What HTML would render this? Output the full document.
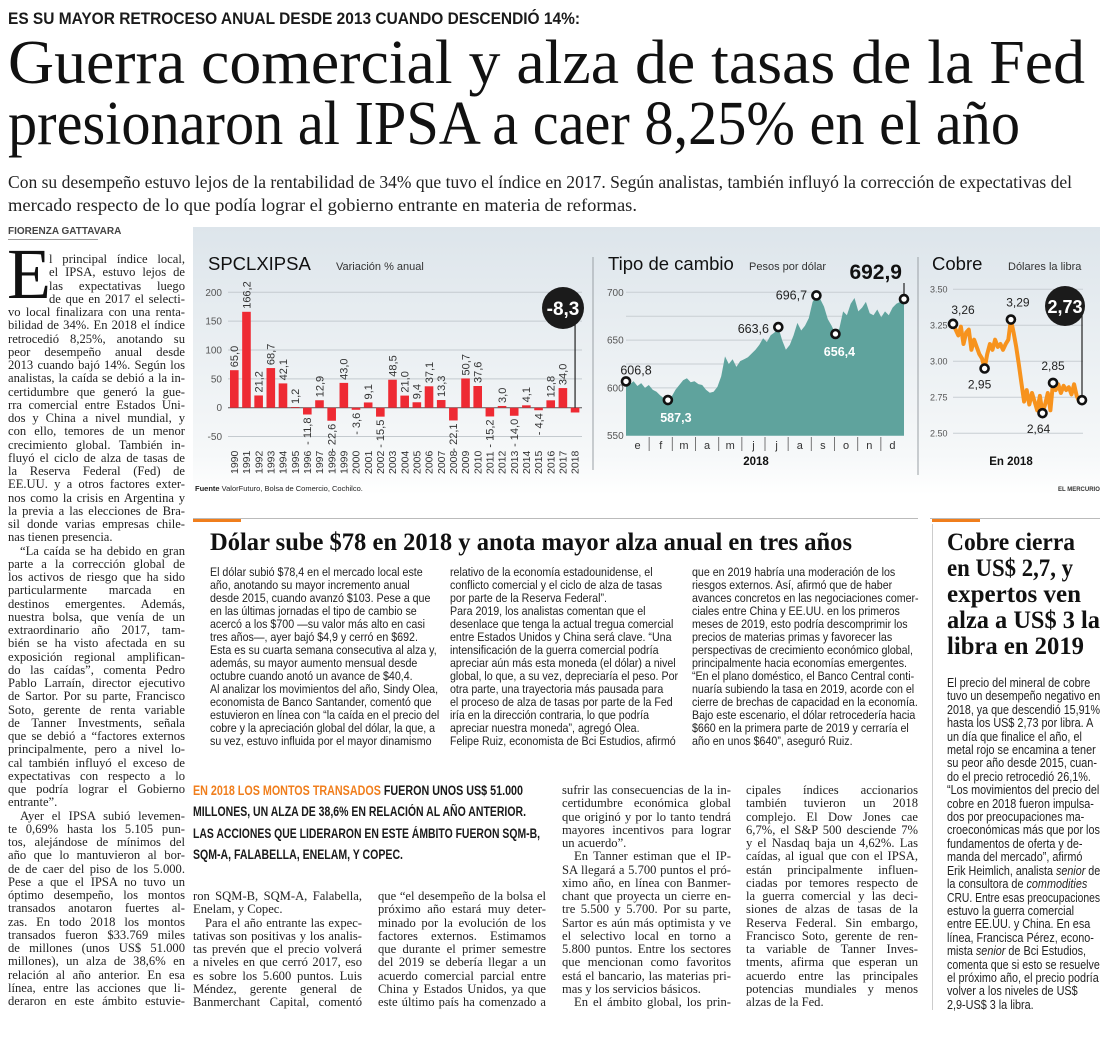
<!DOCTYPE html>
<html><head><meta charset="utf-8">
<style>
*{margin:0;padding:0;box-sizing:border-box}
body{width:1100px;height:1046px;background:#fff;position:relative;overflow:hidden;color:#1e1e1e;font-family:"Liberation Serif",serif}
.a{position:absolute;white-space:nowrap}
.col{position:absolute;font-family:"Liberation Serif",serif;font-size:12.6px;line-height:13.25px;color:#222}
.l{white-space:nowrap;text-align:justify;text-align-last:justify;transform-origin:left center}
.l.e{text-align-last:left}
.l.i{text-indent:12px}
.sans{font-family:"Liberation Sans Narrow","Liberation Sans",sans-serif}
.mid{position:absolute;font-family:"Liberation Sans",sans-serif;font-size:12.4px;line-height:13px;color:#222;transform:scaleX(0.86);transform-origin:left top}
.mid .l,.side .l{text-align:left;text-align-last:left}
.side{position:absolute;font-family:"Liberation Sans",sans-serif;font-size:12.6px;line-height:13.4px;color:#222;transform:scaleX(0.86);transform-origin:left top}
.fx{transform-origin:left center;display:inline-block}
.hl{position:absolute;white-space:nowrap;font-size:25px;font-weight:bold;line-height:26px;color:#111;left:947px}
</style></head><body>

<div class="a fx sans" data-w="572" style="left:8px;top:9px;font-family:'Liberation Sans',sans-serif;font-weight:bold;font-size:17px;line-height:20px;color:#1a1a1a">ES SU MAYOR RETROCESO ANUAL DESDE 2013 CUANDO DESCENDIÓ 14%:</div>

<div class="a fx" data-w="1077" style="left:8px;top:30px;font-size:62px;line-height:66px;color:#111">Guerra comercial y alza de tasas de la Fed</div>
<div class="a fx" data-w="1012" style="left:8px;top:91px;font-size:62px;line-height:66px;color:#111">presionaron al IPSA a caer 8,25% en el año</div>

<div class="a fx" data-w="1064" style="left:8px;top:172px;font-size:18px;line-height:20px;color:#222">Con su desempeño estuvo lejos de la rentabilidad de 34% que tuvo el índice en 2017. Según analistas, también influyó la corrección de expectativas del</div>
<div class="a fx" data-w="629" style="left:8px;top:195px;font-size:18px;line-height:20px;color:#222">mercado respecto de lo que podía lograr el gobierno entrante en materia de reformas.</div>

<div class="a sans" style="left:8px;top:227px;font-size:10px;font-weight:bold;line-height:10px;color:#444">FIORENZA GATTAVARA</div>
<div class="a" style="left:8px;top:239px;width:90px;height:1px;background:#999"></div>

<!-- Left column -->
<div class="a" style="left:7px;top:238px;font-size:72px;line-height:72px;color:#111">E</div>
<div class="col" style="left:8px;top:253px;width:177px">
<div class="l" style="margin-left:41px">l principal índice local,</div>
<div class="l" style="margin-left:41px">el IPSA, estuvo lejos de</div>
<div class="l" style="margin-left:41px">las expectativas luego</div>
<div class="l" style="margin-left:41px">de que en 2017 el selecti-</div>
<div class="l">vo local finalizara con una renta-</div>
<div class="l">bilidad de 34%. En 2018 el índice</div>
<div class="l">retrocedió 8,25%, anotando su</div>
<div class="l">peor desempeño anual desde</div>
<div class="l">2013 cuando bajó 14%. Según los</div>
<div class="l">analistas, la caída se debió a la in-</div>
<div class="l">certidumbre que generó la gue-</div>
<div class="l">rra comercial entre Estados Uni-</div>
<div class="l">dos y China a nivel mundial, y</div>
<div class="l">con ello, temores de un menor</div>
<div class="l">crecimiento global. También in-</div>
<div class="l">fluyó el ciclo de alza de tasas de</div>
<div class="l">la Reserva Federal (Fed) de</div>
<div class="l">EE.UU. y a otros factores exter-</div>
<div class="l">nos como la crisis en Argentina y</div>
<div class="l">la previa a las elecciones de Bra-</div>
<div class="l">sil donde varias empresas chile-</div>
<div class="l e">nas tienen presencia.</div>
<div class="l i">“La caída se ha debido en gran</div>
<div class="l">parte a la corrección global de</div>
<div class="l">los activos de riesgo que ha sido</div>
<div class="l">particularmente marcada en</div>
<div class="l">destinos emergentes. Además,</div>
<div class="l">nuestra bolsa, que venía de un</div>
<div class="l">extraordinario año 2017, tam-</div>
<div class="l">bién se ha visto afectada en su</div>
<div class="l">exposición regional amplifican-</div>
<div class="l">do las caídas”, comenta Pedro</div>
<div class="l">Pablo Larraín, director ejecutivo</div>
<div class="l">de Sartor. Por su parte, Francisco</div>
<div class="l">Soto, gerente de renta variable</div>
<div class="l">de Tanner Investments, señala</div>
<div class="l">que se debió a “factores externos</div>
<div class="l">principalmente, pero a nivel lo-</div>
<div class="l">cal también influyó el exceso de</div>
<div class="l">expectativas con respecto a lo</div>
<div class="l">que podría lograr el Gobierno</div>
<div class="l e">entrante”.</div>
<div class="l i">Ayer el IPSA subió levemen-</div>
<div class="l">te 0,69% hasta los 5.105 pun-</div>
<div class="l">tos, alejándose de mínimos del</div>
<div class="l">año que lo mantuvieron al bor-</div>
<div class="l">de de caer del piso de los 5.000.</div>
<div class="l">Pese a que el IPSA no tuvo un</div>
<div class="l">óptimo desempeño, los montos</div>
<div class="l">transados anotaron fuertes al-</div>
<div class="l">zas. En todo 2018 los montos</div>
<div class="l">transados fueron $33.769 miles</div>
<div class="l">de millones (unos US$ 51.000</div>
<div class="l">millones), un alza de 38,6% en</div>
<div class="l">relación al año anterior. En esa</div>
<div class="l">línea, entre las acciones que li-</div>
<div class="l">deraron en este ámbito estuvie-</div>
</div>

<!-- Chart panel -->
<div class="a" style="left:193px;top:227px;width:907px;height:268px;background:linear-gradient(#dde5eb,#f6f8f9 85%,#fff)"></div>
<svg id="charts" style="position:absolute;left:193px;top:225px" width="907" height="275" viewBox="193 225 907 275" font-family="Liberation Sans, sans-serif">
<text x="208" y="270" font-size="18.5" fill="#111">SPCLXIPSA</text>
<text x="336" y="270" font-size="11" fill="#333">Variación % anual</text>
<text x="608" y="270" font-size="18.5" fill="#111">Tipo de cambio</text>
<text x="749" y="270" font-size="11" fill="#333">Pesos por dólar</text>
<text x="932" y="270" font-size="18.5" fill="#111">Cobre</text>
<text x="1008" y="270" font-size="11" fill="#333">Dólares la libra</text>
<line x1="593" y1="257" x2="593" y2="470" stroke="#9aa0a5"/>
<line x1="918" y1="257" x2="918" y2="475" stroke="#9aa0a5"/>
<text x="756" y="465" font-size="11.5" font-weight="bold" text-anchor="middle" fill="#111">2018</text>
<text x="1011" y="465" font-size="11.5" font-weight="bold" text-anchor="middle" fill="#111">En 2018</text>
<text x="195" y="491" font-size="7.5" fill="#222"><tspan font-weight="bold">Fuente</tspan> ValorFuturo, Bolsa de Comercio, Cochilco.</text>
<text x="1058" y="491" font-size="6" font-weight="bold" fill="#333">EL MERCURIO</text>
</svg>

<!-- middle article -->
<div class="a" style="left:193px;top:518px;width:725px;height:1px;background:#bbb"></div>
<div class="a" style="left:193px;top:519px;width:48px;height:3px;background:#f07e1c"></div>
<div class="a fx" data-w="642" style="left:210px;top:529px;font-size:25px;font-weight:bold;line-height:28px;color:#111">Dólar sube $78 en 2018 y anota mayor alza anual en tres años</div>

<div class="mid" style="left:210px;top:566px;width:270px">
<div class="l">El dólar subió $78,4 en el mercado local este</div>
<div class="l">año, anotando su mayor incremento anual</div>
<div class="l">desde 2015, cuando avanzó $103. Pese a que</div>
<div class="l">en las últimas jornadas el tipo de cambio se</div>
<div class="l">acercó a los $700 —su valor más alto en casi</div>
<div class="l">tres años—, ayer bajó $4,9 y cerró en $692.</div>
<div class="l">Esta es su cuarta semana consecutiva al alza y,</div>
<div class="l">además, su mayor aumento mensual desde</div>
<div class="l">octubre cuando anotó un avance de $40,4.</div>
<div class="l">Al analizar los movimientos del año, Sindy Olea,</div>
<div class="l">economista de Banco Santander, comentó que</div>
<div class="l">estuvieron en línea con “la caída en el precio del</div>
<div class="l">cobre y la apreciación global del dólar, la que, a</div>
<div class="l">su vez, estuvo influida por el mayor dinamismo</div>
</div>
<div class="mid" style="left:450px;top:566px;width:270px">
<div class="l">relativo de la economía estadounidense, el</div>
<div class="l">conflicto comercial y el ciclo de alza de tasas</div>
<div class="l">por parte de la Reserva Federal”.</div>
<div class="l">Para 2019, los analistas comentan que el</div>
<div class="l">desenlace que tenga la actual tregua comercial</div>
<div class="l">entre Estados Unidos y China será clave. “Una</div>
<div class="l">intensificación de la guerra comercial podría</div>
<div class="l">apreciar aún más esta moneda (el dólar) a nivel</div>
<div class="l">global, lo que, a su vez, depreciaría el peso. Por</div>
<div class="l">otra parte, una trayectoria más pausada para</div>
<div class="l">el proceso de alza de tasas por parte de la Fed</div>
<div class="l">iría en la dirección contraria, lo que podría</div>
<div class="l">apreciar nuestra moneda”, agregó Olea.</div>
<div class="l">Felipe Ruiz, economista de Bci Estudios, afirmó</div>
</div>
<div class="mid" style="left:692px;top:566px;width:263px">
<div class="l">que en 2019 habría una moderación de los</div>
<div class="l">riesgos externos. Así, afirmó que de haber</div>
<div class="l">avances concretos en las negociaciones comer-</div>
<div class="l">ciales entre China y EE.UU. en los primeros</div>
<div class="l">meses de 2019, esto podría descomprimir los</div>
<div class="l">precios de materias primas y favorecer las</div>
<div class="l">perspectivas de crecimiento económico global,</div>
<div class="l">principalmente hacia economías emergentes.</div>
<div class="l">“En el plano doméstico, el Banco Central conti-</div>
<div class="l">nuaría subiendo la tasa en 2019, acorde con el</div>
<div class="l">cierre de brechas de capacidad en la economía.</div>
<div class="l">Bajo este escenario, el dólar retrocedería hacia</div>
<div class="l">$660 en la primera parte de 2019 y cerraría el</div>
<div class="l">año en unos $640”, aseguró Ruiz.</div>
</div>

<!-- callout -->
<div class="a fx sans" data-w="330" style="left:193px;top:783px;font-size:13.5px;font-weight:bold;line-height:16px;color:#1a1a1a"><span style="color:#f07e1c">EN 2018 LOS MONTOS TRANSADOS</span> FUERON UNOS US$ 51.000</div>
<div class="a fx sans" data-w="333" style="left:193px;top:804px;font-size:13.5px;font-weight:bold;line-height:16px;color:#1a1a1a">MILLONES, UN ALZA DE 38,6% EN RELACIÓN AL AÑO ANTERIOR.</div>
<div class="a fx sans" data-w="347" style="left:193px;top:826px;font-size:13.5px;font-weight:bold;line-height:16px;color:#1a1a1a">LAS ACCIONES QUE LIDERARON EN ESTE ÁMBITO FUERON SQM-B,</div>
<div class="a fx sans" data-w="210" style="left:193px;top:847px;font-size:13.5px;font-weight:bold;line-height:16px;color:#1a1a1a">SQM-A, FALABELLA, ENELAM, Y COPEC.</div>

<div class="col" style="left:193px;top:890px;width:169px">
<div class="l">ron SQM-B, SQM-A, Falabella,</div>
<div class="l e">Enelam, y Copec.</div>
<div class="l i">Para el año entrante las expec-</div>
<div class="l">tativas son positivas y los analis-</div>
<div class="l">tas prevén que el precio volverá</div>
<div class="l">a niveles en que cerró 2017, eso</div>
<div class="l">es sobre los 5.600 puntos. Luis</div>
<div class="l">Méndez, gerente general de</div>
<div class="l">Banmerchant Capital, comentó</div>
</div>
<div class="col" style="left:378px;top:890px;width:168px">
<div class="l">que “el desempeño de la bolsa el</div>
<div class="l">próximo año estará muy deter-</div>
<div class="l">minado por la evolución de los</div>
<div class="l">factores externos. Estimamos</div>
<div class="l">que durante el primer semestre</div>
<div class="l">del 2019 se debería llegar a un</div>
<div class="l">acuerdo comercial parcial entre</div>
<div class="l">China y Estados Unidos, ya que</div>
<div class="l">este último país ha comenzado a</div>
</div>
<div class="col" style="left:562px;top:784px;width:169px">
<div class="l">sufrir las consecuencias de la in-</div>
<div class="l">certidumbre económica global</div>
<div class="l">que originó y por lo tanto tendrá</div>
<div class="l">mayores incentivos para lograr</div>
<div class="l e">un acuerdo”.</div>
<div class="l i">En Tanner estiman que el IP-</div>
<div class="l">SA llegará a 5.700 puntos el pró-</div>
<div class="l">ximo año, en línea con Banmer-</div>
<div class="l">chant que proyecta un cierre en-</div>
<div class="l">tre 5.500 y 5.700. Por su parte,</div>
<div class="l">Sartor es aún más optimista y ve</div>
<div class="l">el selectivo local en torno a</div>
<div class="l">5.800 puntos. Entre los sectores</div>
<div class="l">que mencionan como favoritos</div>
<div class="l">está el bancario, las materias pri-</div>
<div class="l e">mas y los servicios básicos.</div>
<div class="l i">En el ámbito global, los prin-</div>
</div>
<div class="col" style="left:746px;top:784px;width:172px">
<div class="l">cipales índices accionarios</div>
<div class="l">también tuvieron un 2018</div>
<div class="l">complejo. El Dow Jones cae</div>
<div class="l">6,7%, el S&amp;P 500 desciende 7%</div>
<div class="l">y el Nasdaq baja un 4,62%. Las</div>
<div class="l">caídas, al igual que con el IPSA,</div>
<div class="l">están principalmente influen-</div>
<div class="l">ciadas por temores respecto de</div>
<div class="l">la guerra comercial y las deci-</div>
<div class="l">siones de alzas de tasas de la</div>
<div class="l">Reserva Federal. Sin embargo,</div>
<div class="l">Francisco Soto, gerente de ren-</div>
<div class="l">ta variable de Tanner Inves-</div>
<div class="l">tments, afirma que esperan un</div>
<div class="l">acuerdo entre las principales</div>
<div class="l">potencias mundiales y menos</div>
<div class="l e">alzas de la Fed.</div>
</div>

<!-- sidebar -->
<div class="a" style="left:932px;top:524px;width:1px;height:486px;background:#ccc"></div>
<div class="a" style="left:930px;top:518px;width:170px;height:1px;background:#bbb"></div>
<div class="a" style="left:932px;top:519px;width:48px;height:3px;background:#f07e1c"></div>
<div class="hl fx" data-w="128" style="top:530px">Cobre cierra</div>
<div class="hl fx" data-w="126" style="top:556px">en US$ 2,7, y</div>
<div class="hl fx" data-w="134" style="top:582px">expertos ven</div>
<div class="hl fx" data-w="153" style="top:608px">alza a US$ 3 la</div>
<div class="hl fx" data-w="137" style="top:634px">libra en 2019</div>
<div class="side" style="left:947px;top:677px;width:178px">
<div class="l">El precio del mineral de cobre</div>
<div class="l">tuvo un desempeño negativo en</div>
<div class="l">2018, ya que descendió 15,91%</div>
<div class="l">hasta los US$ 2,73 por libra. A</div>
<div class="l">un día que finalice el año, el</div>
<div class="l">metal rojo se encamina a tener</div>
<div class="l">su peor año desde 2015, cuan-</div>
<div class="l">do el precio retrocedió 26,1%.</div>
<div class="l">“Los movimientos del precio del</div>
<div class="l">cobre en 2018 fueron impulsa-</div>
<div class="l">dos por preocupaciones ma-</div>
<div class="l">croeconómicas más que por los</div>
<div class="l">fundamentos de oferta y de-</div>
<div class="l">manda del mercado”, afirmó</div>
<div class="l">Erik Heimlich, analista <i>senior</i> de</div>
<div class="l">la consultora de <i>commodities</i></div>
<div class="l">CRU. Entre esas preocupaciones</div>
<div class="l">estuvo la guerra comercial</div>
<div class="l">entre EE.UU. y China. En esa</div>
<div class="l">línea, Francisca Pérez, econo-</div>
<div class="l">mista <i>senior</i> de Bci Estudios,</div>
<div class="l">comenta que si esto se resuelve</div>
<div class="l">el próximo año, el precio podría</div>
<div class="l">volver a los niveles de US$</div>
<div class="l">2,9-US$ 3 la libra.</div>
</div>

<script>
// ---------- chart data ----------
const ipsaYears = ["1990","1991","1992","1993","1994","1995","1996","1997","1998","1999","2000","2001","2002","2003","2004","2005","2006","2007","2008","2009","2010","2011","2012","2013","2014","2015","2016","2017","2018"];
const ipsaValues = [65.0,166.2,21.2,68.7,42.1,1.2,-11.8,12.9,-22.6,43.0,-3.6,9.1,-15.5,48.5,21.0,9.4,37.1,13.3,-22.1,50.7,37.6,-15.2,3.0,-14.0,4.1,-4.4,12.8,34.0,-8.3];
const ipsaTicks = [200,150,100,50,0,-50];
const fxValues = [606.8,604,607,602,605,600,603,598,596,592,589,587.3,591,598,603,608,610,606,607,604,603,598,595,596,601,612,633,625,630,622,628,630,632,636,640,645,652,648,655,658,663.6,650,640,645,655,668,660,665,673,690,696.7,693,685,672,665,656.4,662,680,676,688,694,680,684,690,678,676,682,674,680,676,684,688,690,692.9];
const fxMarkers = [0,11,40,50,55,73];
const fxTicks = [700,650,600,550];
const fxGrid = [700,675,650,625,600];
const months = ["e","f","m","a","m","j","j","a","s","o","n","d"];
const cuValues = [3.26,3.22,3.18,3.24,3.12,3.20,3.22,3.08,3.15,3.10,3.05,3.02,2.95,3.05,3.12,3.08,3.15,3.10,3.12,3.08,3.12,3.15,3.29,3.20,3.10,2.98,2.85,2.72,2.80,2.70,2.78,2.72,2.66,2.76,2.64,2.70,2.78,2.66,2.85,2.80,2.84,2.78,2.83,2.80,2.82,2.77,2.84,2.76,2.72,2.73];
const cuMarkers = [0,12,22,34,38,49];
const cuTicks = [3.50,3.25,3.00,2.75,2.50];

// label layout (offsets from marker, px)
const fxLabelStyle = [{dx:10,dy:-11,c:"#222",w:"normal"},{dx:8,dy:18,c:"#fff",w:"bold"},{dx:-25,dy:2,c:"#222",w:"normal"},{dx:-25,dy:0,c:"#222",w:"normal"},{dx:4,dy:18,c:"#fff",w:"bold"}];
const cuLabelStyle = [{dx:10,dy:-14,c:"#222"},{dx:-5,dy:16,c:"#222"},{dx:7,dy:-17,c:"#222"},{dx:-4,dy:16,c:"#222"},{dx:0,dy:-17,c:"#222"}];

const NS="http://www.w3.org/2000/svg";
const svg=document.getElementById('charts');
function mk(tag,attrs,parent){const e=document.createElementNS(NS,tag);for(const k in attrs)e.setAttribute(k,attrs[k]);(parent||svg).appendChild(e);return e;}
const fmt=(v,d)=>v.toFixed(d).replace('.',',');

// ---------- IPSA bars ----------
const ipX=i=>234.3+i*12.17;
const ipY=v=>407.7-v*0.577;
ipsaTicks.forEach(t=>{
  const g=mk('line',{x1:228,x2:582,y1:ipY(t),y2:ipY(t),stroke:t===0?'#555':'#c4cacf','stroke-width':1});
  
  
  const tx=mk('text',{x:222,y:ipY(t)+3.5,'font-size':10,'text-anchor':'end',fill:'#555'});
  tx.textContent=t;
  
  
});
ipsaValues.forEach((v,i)=>{
  const x=ipX(i);
  const r=mk('rect',{x:x-4.3,width:8.6,y:Math.min(ipY(v),ipY(0)),height:Math.abs(ipY(v)-ipY(0)),fill:'#ee2a33'});
  
  
  if(i<ipsaValues.length-1){
    const py=v>=0?ipY(v)-3:ipY(v)+3;
    const t=mk('text',{x:x,y:py,'font-size':11,fill:'#333','text-anchor':v>=0?'start':'end',dy:'0.35em',transform:`rotate(-90 ${x} ${py})`});
    t.textContent=(v<0?'- ':'')+fmt(Math.abs(v),1);
    
    
  }
  const yl=mk('text',{x:x,y:474,'font-size':10.5,fill:'#333',dy:'0.35em',transform:`rotate(-90 ${x} 474)`});
  yl.textContent=ipsaYears[i];
  
  
});
{
  const li=ipsaValues.length-1, lv=ipsaValues[li];
  const ln=mk('line',{x1:ipX(li),x2:ipX(li),y1:312,y2:ipY(0),stroke:'#222','stroke-width':1.2});
  
  
  const c=mk('circle',{cx:563,cy:308,r:21,fill:'#1b1b1b'});
  
  
  const t=mk('text',{x:563,y:315,'font-size':19,'font-weight':'bold','text-anchor':'middle',fill:'#fff'});
  t.textContent=(lv<0?'-':'')+fmt(Math.abs(lv),1);
  
  
}

// ---------- exchange rate area ----------
const fxX=i=>626+i/(fxValues.length-1)*278;
const fxY=v=>435.7-(v-550)*0.956;
fxGrid.forEach(t=>{
  const g=mk('line',{x1:626,x2:904,y1:fxY(t),y2:fxY(t),stroke:'#c8ced3','stroke-width':1});
  
  
});
fxTicks.forEach(t=>{
  const tx=mk('text',{x:607,y:fxY(t)+3.5,'font-size':10,fill:'#555'});
  tx.textContent=t;
  
  
});
{
  let d='M'+fxX(0)+','+fxY(550);
  fxValues.forEach((v,i)=>{d+=' L'+fxX(i).toFixed(1)+','+fxY(v).toFixed(1);});
  d+=' L'+fxX(fxValues.length-1)+','+fxY(550)+' Z';
  const a=mk('path',{d:d,fill:'#5fa39d'});
  
  
}
months.forEach((m,i)=>{
  const w=278/12, x0=626+i*w;
  if(i>0){const tk=mk('line',{x1:x0,x2:x0,y1:437,y2:451,stroke:'#777'});
    
    }
  const t=mk('text',{x:x0+w/2,y:449,'font-size':11,'text-anchor':'middle',fill:'#333'});
  t.textContent=m;
  
  
});
fxMarkers.forEach((idx,k)=>{
  const x=fxX(idx), y=fxY(fxValues[idx]);
  if(k===fxMarkers.length-1){
    const ln=mk('line',{x1:x,x2:x,y1:283,y2:y,stroke:'#222','stroke-width':1.2});
    
    
    const t=mk('text',{x:x-2,y:279,'font-size':21,'font-weight':'bold','text-anchor':'end',fill:'#111'});
    t.textContent=fmt(fxValues[idx],1);
    
    
  } else {
    const s=fxLabelStyle[k];
    const t=mk('text',{x:x+s.dx,y:y+s.dy+4,'font-size':12.5,'font-weight':s.w,'text-anchor':'middle',fill:s.c});
    t.textContent=fmt(fxValues[idx],1);
    
    
  }
  const c=mk('circle',{cx:x,cy:y,r:4,fill:'#fff',stroke:'#111','stroke-width':2.6});
  
  
});

// ---------- copper line ----------
const cuX=i=>953+i/(cuValues.length-1)*129;
const cuY=v=>433.3-(v-2.5)*144;
cuTicks.forEach(t=>{
  const g=mk('line',{x1:953,x2:1083,y1:cuY(t),y2:cuY(t),stroke:'#c8ced3'});
  
  
  const tx=mk('text',{x:930,y:cuY(t)+3,'font-size':9,fill:'#555'});
  tx.textContent=t.toFixed(2);
  
  
});
{
  const pts=cuValues.map((v,i)=>cuX(i).toFixed(1)+','+cuY(v).toFixed(1)).join(' ');
  const p=mk('polyline',{points:pts,fill:'none',stroke:'#f7931e','stroke-width':4,'stroke-linejoin':'round'});
  
  
}
cuMarkers.forEach((idx,k)=>{
  const x=cuX(idx), y=cuY(cuValues[idx]);
  if(k===cuMarkers.length-1){
    const ln=mk('line',{x1:x,x2:x,y1:306,y2:y,stroke:'#222','stroke-width':1.2});
    
    
    const c=mk('circle',{cx:1065,cy:306,r:20,fill:'#1b1b1b'});
    
    
    const t=mk('text',{x:1065,y:313,'font-size':18,'font-weight':'bold','text-anchor':'middle',fill:'#fff'});
    t.textContent=fmt(cuValues[idx],2);
    
    
  } else {
    const s=cuLabelStyle[k];
    const t=mk('text',{x:x+s.dx,y:y+s.dy+4,'font-size':12,'text-anchor':'middle',fill:s.c});
    t.textContent=fmt(cuValues[idx],2);
    
    
  }
  const c=mk('circle',{cx:x,cy:y,r:4,fill:'#fff',stroke:'#111','stroke-width':2.6});
  
  
});

// ---------- text fitting ----------
function fitAll(){
  document.querySelectorAll('.fx').forEach(el=>{
    const target=+el.getAttribute('data-w');
    el.style.transform='none';
    const w=el.getBoundingClientRect().width;
    if(w>0) el.style.transform='scaleX('+(target/w)+')';
  });
  document.querySelectorAll('.col .l, .mid .l, .side .l').forEach(el=>{
    el.style.transform='none';el.style.width='';
    const cw=el.clientWidth, sw=el.scrollWidth;
    if(sw>cw+0.5){el.style.width=sw+'px';el.style.transform='scaleX('+(cw/sw)+')';}
  });
}
fitAll();
if(document.fonts&&document.fonts.ready)document.fonts.ready.then(fitAll);
</script>
</body></html>
